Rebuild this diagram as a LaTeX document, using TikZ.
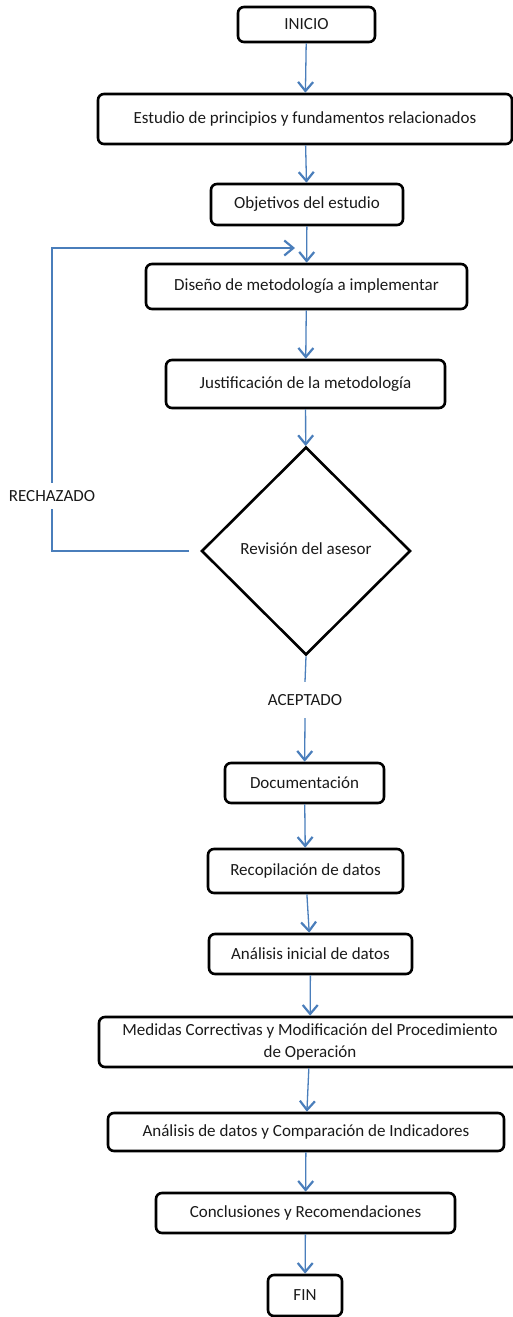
\documentclass[tikz,border=0pt]{standalone}
\usepackage{fontspec}
\setmainfont{Carlito}
\usepackage{xcolor}
\definecolor{flowblue}{HTML}{4A7EBB}
\definecolor{textdark}{HTML}{1A1A1A}
\usetikzlibrary{shapes.geometric,arrows.meta}

\begin{document}
\begin{tikzpicture}[x=1pt, y=-1pt,
    every node/.style={font=\fontsize{17}{22}\selectfont, text=textdark},
    stage/.style={draw, line width=2.6pt, rounded corners=6pt, align=center, inner sep=0pt},
    flow/.style={flowblue, line width=1.3pt, -{Straight Barb[length=9pt,width=15pt,line width=2.2pt]}},
    link/.style={flowblue, line width=1.3pt}]
  \useasboundingbox (0,0) rectangle (513,1317);
  % Planning stages
  \node[stage, minimum width=137pt, minimum height=35pt] (inicio) at (306.5,24.5) {INICIO};
  \node[stage, minimum width=414pt, minimum height=50pt] (estudio) at (305,119) {Estudio de principios y fundamentos relacionados};
  \node[stage, minimum width=192pt, minimum height=41pt] (objetivos) at (307,204.5) {Objetivos del estudio};
  \node[stage, minimum width=321pt, minimum height=45pt] (diseno) at (306.5,286.5) {Diseño de metodología a implementar};
  \node[stage, minimum width=279pt, minimum height=48pt] (justificacion) at (305.5,384) {Justificación de la metodología};
  % Review
  \node[draw, diamond, line width=2.6pt, inner sep=0pt, minimum width=209pt, minimum height=208pt] (revision) at (306,551) {\raisebox{4pt}{Revisión del asesor}};
  \node[inner sep=0pt, minimum height=26pt] (rechazado) at (52,496) {RECHAZADO};
  \node[inner sep=0pt, minimum height=36pt] (aceptado) at (305,700) {ACEPTADO};
  \coordinate (retorno) at (295,248);
  % Execution stages
  \node[stage, minimum width=159pt, minimum height=40pt] (documentacion) at (304.5,783) {Documentación};
  \node[stage, minimum width=195pt, minimum height=44pt] (recopilacion) at (305.5,871) {Recopilación de datos};
  \node[stage, minimum width=203pt, minimum height=40pt] (analisisinicial) at (310.5,954) {Análisis inicial de datos};
  \node[stage, minimum width=422pt, minimum height=50pt] (medidas) at (310,1042) {Medidas Correctivas y Modificación del Procedimiento\\de Operación};
  \node[stage, minimum width=396pt, minimum height=38pt] (comparacion) at (306,1132) {Análisis de datos y Comparación de Indicadores};
  \node[stage, minimum width=299pt, minimum height=40pt] (conclusiones) at (305.5,1213) {Conclusiones y Recomendaciones};
  \node[stage, minimum width=74pt, minimum height=41pt] (fin) at (305,1295.5) {FIN};
  % Connectors
  \draw[flow] (inicio) -- (estudio);
  \draw[flow] (estudio) -- (objetivos);
  \draw[flow] (objetivos) -- (diseno);
  \draw[flow] (diseno) -- (justificacion);
  \draw[flow] (justificacion) -- (revision);
  \draw[link] ([xshift=-11pt]revision.west) -| (rechazado.south);
  \draw[flow] (rechazado.north) |- (retorno);
  \draw[link] (revision.south) -- (aceptado.north);
  \draw[flow] (aceptado.south) -- (documentacion);
  \draw[flow] (documentacion) -- (recopilacion);
  \draw[flow] (recopilacion) -- (analisisinicial);
  \draw[flow] (analisisinicial) -- (medidas);
  \draw[flow] (medidas) -- (comparacion);
  \draw[flow] (comparacion) -- (conclusiones);
  \draw[flow] (conclusiones) -- (fin);
\end{tikzpicture}
\end{document}
